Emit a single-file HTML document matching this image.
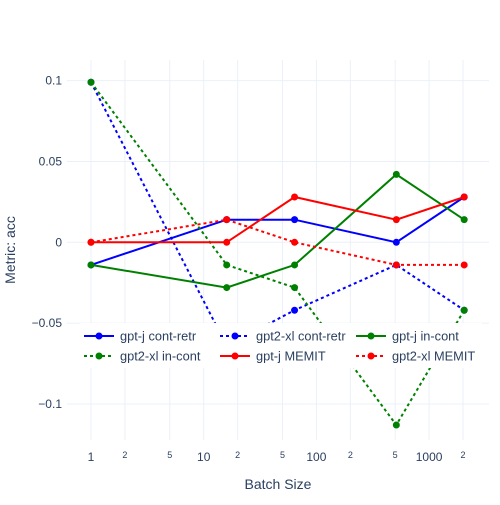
<!DOCTYPE html>
<html><head><meta charset="utf-8"><style>
body{margin:0;background:#fff;font-family:"Liberation Sans",sans-serif}
</style></head><body>
<svg id="chart" width="500" height="500" xmlns="http://www.w3.org/2000/svg" style="font-family:'Liberation Sans',sans-serif">
<g id="grid"></g>
<g id="series"></g>
<g id="legend"></g>
<g id="axes"></g>
</svg>
<script>
const batchSizes = [1, 16, 64, 512, 2048];
const gptjContRetr = [-0.014, 0.014, 0.014, 0, 0.028];
const gpt2xlContRetr = [0.099, -0.064, -0.042, -0.014, -0.042];
const gptjInCont = [-0.014, -0.028, -0.014, 0.042, 0.014];
const gpt2xlInCont = [0.099, -0.014, -0.028, -0.113, -0.042];
const gptjMemit = [0, 0, 0.028, 0.014, 0.028];
const gpt2xlMemit = [0, 0.014, 0, -0.014, -0.014];
const yTicks = [0.1, 0.05, 0, -0.05, -0.1];
const yTickLabels = ["0.1", "0.05", "0", "−0.05", "−0.1"];
const xMajor = [1, 10, 100, 1000];
const xMajorLabels = ["1", "10", "100", "1000"];
const xMinor = [2, 5, 20, 50, 200, 500, 2000];
const xMinorLabels = ["2", "5", "2", "5", "2", "5", "2"];

const NS = "http://www.w3.org/2000/svg";
const L = 67, R = 489, T = 60, B = 440;
const xs = v => 91 + Math.log10(v) * 112.7;
const ys = v => 242.3 - v * 1617;
function mk(tag, attrs, parent) {
  const e = document.createElementNS(NS, tag);
  for (const k in attrs) e.setAttribute(k, attrs[k]);
  parent.appendChild(e);
  return e;
}
const grid = document.getElementById('grid'), axes = document.getElementById('axes'),
  ser = document.getElementById('series'), leg = document.getElementById('legend');

xMajor.concat(xMinor).forEach(v => {
  const l = mk('line', {x1: xs(v), x2: xs(v), y1: T, y2: B, stroke: '#ebf0f8', 'stroke-width': 1}, grid);
  
  
});
yTicks.forEach((v, i) => {
  const l = mk('line', {x1: L, x2: R, y1: ys(v), y2: ys(v), stroke: '#ebf0f8', 'stroke-width': 1}, grid);
  
  
  const t = mk('text', {x: 62, y: ys(v) + 4, 'text-anchor': 'end', 'font-size': 12, fill: '#2a3f5f'}, axes);
  t.textContent = yTickLabels[i];
  
  
});
xMajor.forEach((v, i) => {
  const t = mk('text', {x: xs(v), y: 461, 'text-anchor': 'middle', 'font-size': 12, fill: '#2a3f5f'}, axes);
  t.textContent = xMajorLabels[i];
  
  
});
xMinor.forEach((v, i) => {
  const t = mk('text', {x: xs(v), y: 458, 'text-anchor': 'middle', 'font-size': 9, fill: '#2a3f5f'}, axes);
  t.textContent = xMinorLabels[i];
  
  
});
const xt = mk('text', {x: 278, y: 489, 'text-anchor': 'middle', 'font-size': 14, fill: '#2a3f5f'}, axes);
xt.textContent = 'Batch Size';


const yt = mk('text', {x: 15, y: 250, 'text-anchor': 'middle', 'font-size': 14, fill: '#2a3f5f', transform: 'rotate(-90 15 250)'}, axes);
yt.textContent = 'Metric: acc';



const series = [
  {name: 'gpt-j cont-retr', vals: gptjContRetr, color: '#0000ff', dash: null},
  {name: 'gpt2-xl cont-retr', vals: gpt2xlContRetr, color: '#0000ff', dash: '3,3'},
  {name: 'gpt-j in-cont', vals: gptjInCont, color: '#008000', dash: null},
  {name: 'gpt2-xl in-cont', vals: gpt2xlInCont, color: '#008000', dash: '3,3'},
  {name: 'gpt-j MEMIT', vals: gptjMemit, color: '#ff0000', dash: null},
  {name: 'gpt2-xl MEMIT', vals: gpt2xlMemit, color: '#ff0000', dash: '3,3'}
];
const clip = mk('clipPath', {id: 'pc'}, ser);
mk('rect', {x: L, y: T, width: R - L, height: B - T}, clip);
series.forEach(s => {
  const g = mk('g', {'clip-path': 'url(#pc)'}, ser);
  
  
  const pts = s.vals.map((v, i) => xs(batchSizes[i]).toFixed(1) + ',' + ys(v).toFixed(1)).join(' ');
  const pl = mk('polyline', {points: pts, fill: 'none', stroke: s.color, 'stroke-width': 2}, g);
  if (s.dash) pl.setAttribute('stroke-dasharray', s.dash);
  
  
  s.vals.forEach((v, i) => {
    const c = mk('circle', {cx: xs(batchSizes[i]), cy: ys(v), r: 3.5, fill: s.color}, g);
    
    
  });
});

const bg = mk('rect', {x: 80, y: 323, width: 402, height: 45, fill: '#ffffff'}, leg);


const colX = [84, 220, 356];
series.forEach((s, i) => {
  const x = colX[i % 3], y = 336 + Math.floor(i / 3) * 20;
  const g = mk('g', {}, leg);
  
  
  const l = mk('line', {x1: x, x2: x + 30, y1: y, y2: y, stroke: s.color, 'stroke-width': 2}, g);
  if (s.dash) l.setAttribute('stroke-dasharray', s.dash);
  mk('circle', {cx: x + 15, cy: y, r: 3.5, fill: s.color}, g);
  const t = mk('text', {x: x + 36, y: y + 4.5, 'font-size': 12.8, fill: '#2a3f5f'}, g);
  t.textContent = s.name;
});
</script>
</body></html>
